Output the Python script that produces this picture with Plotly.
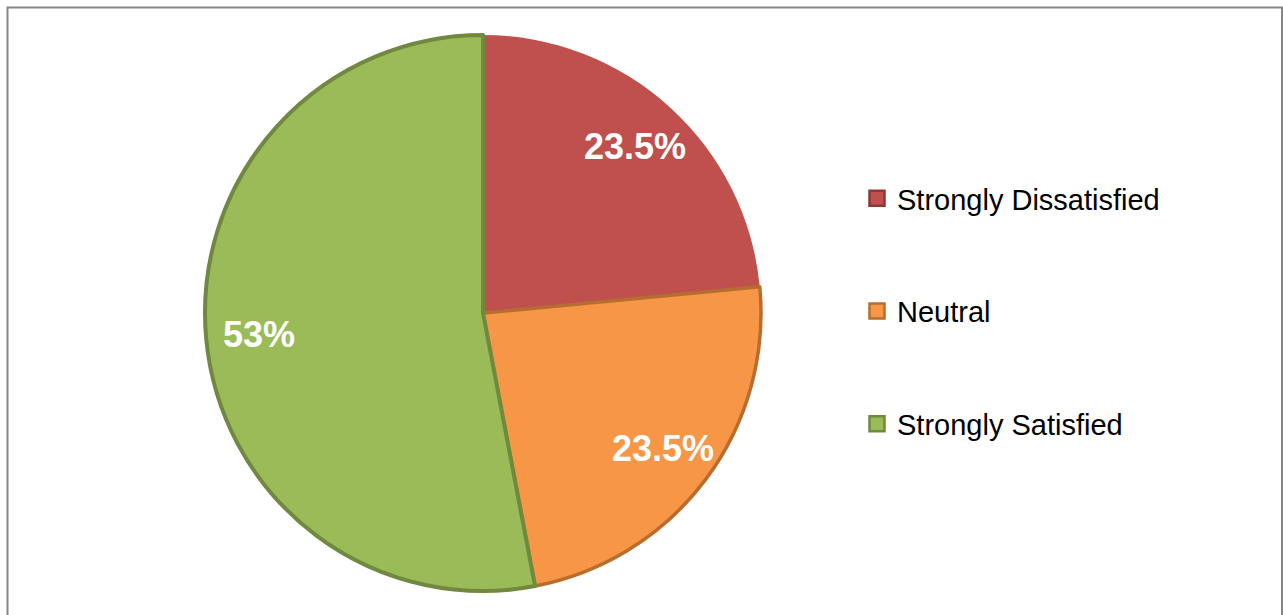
import math
import plotly.graph_objects as go

categories = ["Strongly Dissatisfied", "Neutral", "Strongly Satisfied"]
values = [23.5, 23.5, 53]
fill_colors = ["#C0504D", "#F79646", "#9BBB59"]
edge_colors = ["#C0504D", "#B66D2F", "#71893F"]
legend_edges = ["#8C3836", "#B66D2F", "#71893F"]

labels_text = [f"{v:g}%" for v in values]

W, H = 1283, 615
cx, cy, r = 483, 313, 278
label_frac = 0.81
FONT = "Arial, Liberation Sans, sans-serif"

fig = go.Figure()
fig.add_trace(go.Pie(
    labels=categories,
    values=values,
    textinfo="none",
    sort=False,
    direction="clockwise",
    rotation=0,
    marker=dict(colors=fill_colors, line=dict(color=edge_colors, width=[0, 3.5, 4])),
    showlegend=False,
    hoverinfo="label+percent",
    domain=dict(x=[(cx - r) / W, (cx + r) / W], y=[(H - cy - r) / H, (H - cy + r) / H]),
))

# data labels placed along each slice's bisector (derived from the values)
total = sum(values)
cum = 0.0
annotations = []
for v, t in zip(values, labels_text):
    theta = 2 * math.pi * (cum + v / 2) / total
    cum += v
    px = cx + label_frac * r * math.sin(theta)
    py = cy - label_frac * r * math.cos(theta)
    annotations.append(dict(
        x=px / W, y=1 - py / H, xref="paper", yref="paper",
        text=f"<b>{t}</b>", showarrow=False, xanchor="center", yanchor="middle",
        font=dict(family=FONT, size=36, color="white"),
    ))

for i, (name, fc, ec) in enumerate(zip(categories, fill_colors, legend_edges)):
    fig.add_trace(go.Scatter(
        x=[None], y=[None], mode="markers", name=name,
        legendgroup=f"g{i}",
        marker=dict(symbol="square", size=15, color=fc, line=dict(color=ec, width=2.5)),
        showlegend=True,
    ))

fig.update_layout(
    width=W, height=H,
    margin=dict(l=0, r=0, t=0, b=0),
    paper_bgcolor="white",
    plot_bgcolor="white",
    xaxis=dict(visible=False),
    yaxis=dict(visible=False),
    annotations=annotations,
    legend=dict(
        x=857 / W, y=(H - 173) / H, xanchor="left", yanchor="top",
        font=dict(family=FONT, size=29, color="black"),
        traceorder="grouped",
        tracegroupgap=72,
        bgcolor="rgba(0,0,0,0)",
        itemwidth=30,
    ),
    shapes=[dict(
        type="rect", xref="paper", yref="paper",
        x0=7.5 / W, x1=1282 / W, y0=-0.05, y1=(H - 7.5) / H,
        line=dict(color="#868686", width=2), fillcolor="rgba(0,0,0,0)", layer="below",
    )],
)

fig.write_html("out.html", config={"displayModeBar": False},
               post_script="document.body.style.margin='0';")
